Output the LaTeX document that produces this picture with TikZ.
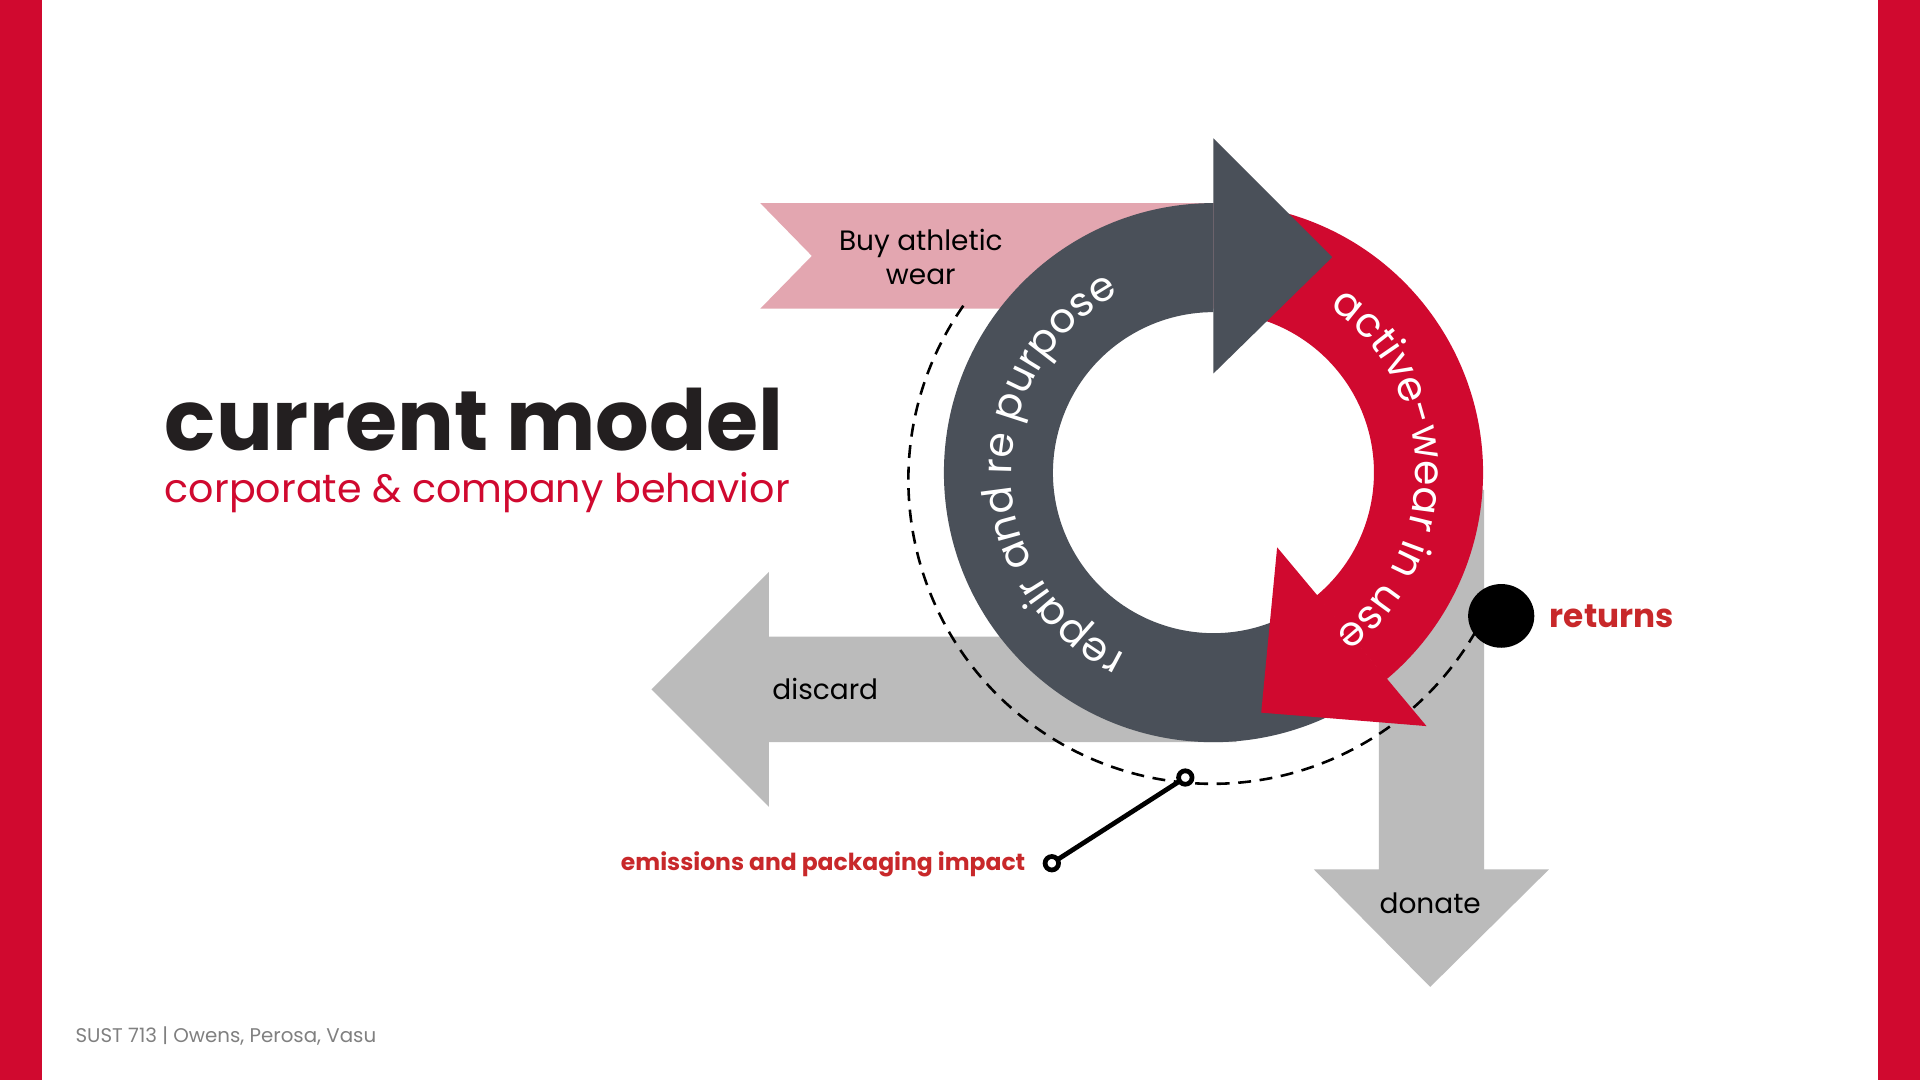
\documentclass[tikz,border=0pt]{standalone}
\usepackage{fontspec}
\setmainfont{Poppins}
\usetikzlibrary{calc,decorations.text}
\definecolor{brand}{HTML}{D0092F}
\definecolor{pinkb}{HTML}{E3A6B0}
\definecolor{darkr}{HTML}{4A5059}
\definecolor{greyb}{HTML}{BBBBBB}
\definecolor{redt}{HTML}{C8282A}
\definecolor{titlec}{HTML}{231F20}
\begin{document}
\begin{tikzpicture}[x=0.01cm,y=0.01cm,
  lbl/.style={font=\fontsize{6.5}{7.8}\selectfont,text=black,align=center},
  ring/.style={decorate,decoration={text along path,text align=center}}]
\useasboundingbox (0,0) rectangle (1568,882);
\fill[white] (0,0) rectangle (1568,882);
\fill[brand] (0,0) rectangle (34,882);
\fill[brand] (1534,0) rectangle (1568,882);
\coordinate (c) at (991,496);
% grey arrows
\fill[greyb] (532,319) -- (628,415) -- (628,362) -- (1010,362) -- (1010,276) -- (628,276) -- (628,223) -- cycle;
\fill[greyb] (1126,482) -- (1212,482) -- (1212,172) -- (1265,172) -- (1168,76) -- (1073,172) -- (1126,172) -- cycle;
\node[lbl] (discard) at (674,319) {discard};
\node[lbl] (donate) at (1168,144) {donate};
% pink band
\fill[pinkb] (621,716) -- (1000,716) -- (1000,630) -- (621,630) -- (663,673) -- cycle;
\node[lbl] (buy) at (752,672) {Buy athletic\\wear};
% dashed circle
\draw[dashed,dash pattern=on 3pt off 2pt,line width=0.6pt] ($(990,490)+(145:2.48cm)$) arc[start angle=145,end angle=330,radius=2.48cm];
% red ring
\fill[brand] ($(c)+(75:2.2cm)$) arc[start angle=75,end angle=-50,radius=2.2cm] -- ($(c)+(-50:1.31cm)$) arc[start angle=-50,end angle=75,radius=1.31cm] -- cycle;
% dark ring
\fill[darkr] ($(c)+(90:2.2cm)$) arc[start angle=90,end angle=300,radius=2.2cm] -- ($(c)+(300:1.31cm)$) arc[start angle=300,end angle=90,radius=1.31cm] -- cycle;
\fill[darkr] (991,769) -- (1088,672) -- (991,577) -- cycle;
\fill[brand] (1043,435) -- (1165,289) -- (1030,300) -- cycle;
% ring texts
\path[ring,decoration={text={|\color{white}\fontsize{9.5}{11}\selectfont|repair and  re purpose}}]
  ($(c)+(258:1.65cm)$) arc[start angle=258,end angle=104,radius=1.65cm];
\path[ring,decoration={text={|\color{white}\fontsize{9.5}{11}\selectfont|active-wear in use}}]
  ($(c)+(60:1.65cm)$) arc[start angle=60,end angle=-58,radius=1.65cm];
% emissions
\coordinate (e1) at (968,247);
\coordinate (e2) at (859,177);
\draw[line width=1.1pt] (e1) -- (e2);
\draw[line width=1.1pt,fill=white] (e1) circle[radius=0.055cm];
\draw[line width=1.1pt,fill=white] (e2) circle[radius=0.055cm];
\node[anchor=east,inner sep=0,text=redt,font=\bfseries\fontsize{5.45}{7}\selectfont] (em) at (838,176) {emissions and packaging impact};
% returns
\fill[black] (1226,379) ellipse[x radius=0.27cm,y radius=0.26cm];
\node[anchor=west,inner sep=0,text=redt,font=\bfseries\fontsize{7.6}{9}\selectfont] (ret) at (1265,379) {returns};
% title
\node[anchor=base west,inner sep=0,text=titlec,font=\bfseries\fontsize{19.6}{24}\selectfont] (title) at (134,514) {current model};
\node[anchor=base west,inner sep=0,text=brand,font=\fontsize{9.2}{11}\selectfont] (sub) at (134,472) {corporate \& company behavior};
\node[anchor=base west,inner sep=0,text=gray,font=\fontsize{4.6}{5}\selectfont] (foot) at (61,31) {SUST 713 | Owens, Perosa, Vasu};
\end{tikzpicture}
\end{document}
